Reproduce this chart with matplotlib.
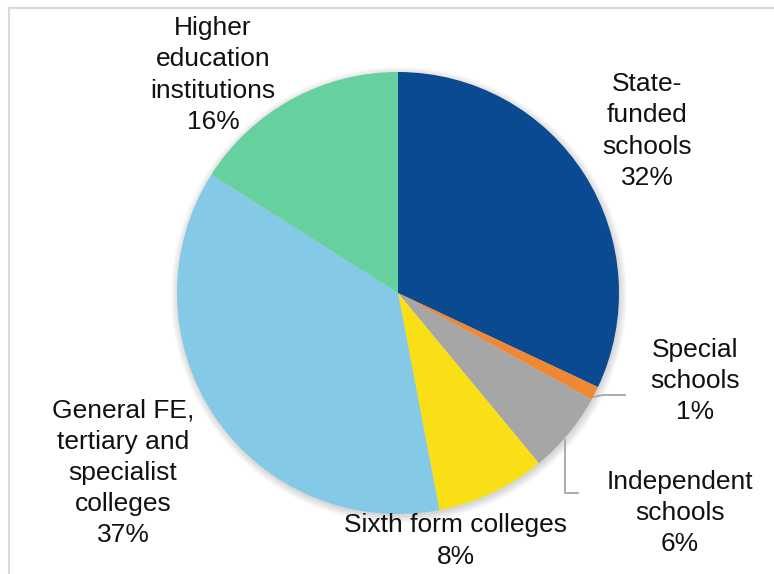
import matplotlib.pyplot as plt
from matplotlib.patches import Circle

# share of students by type of provider
labels = ['State-\nfunded\nschools', 'Special\nschools', 'Independent\nschools',
          'Sixth form colleges', 'General FE,\ntertiary and\nspecialist\ncolleges',
          'Higher\neducation\ninstitutions']
shares = [32, 1, 6, 8, 37, 16]
colors = ['#0A4A91', '#EF8733', '#A6A6A6', '#F9DF15', '#84C9E6', '#66D19E']

W, H = 774, 574
plt.rcParams['font.family'] = ['Liberation Sans', 'DejaVu Sans']

fig = plt.figure(figsize=(W / 100, H / 100), dpi=100)
ax = fig.add_axes([0, 0, 1, 1])

cx, cy, r = 398, H - 293, 221

# soft shadow behind the pie
for k in range(8):
    ax.add_patch(Circle((cx + 1, cy - 2), r + 7 - k, color='black', alpha=0.018, lw=0, zorder=1))

ax.pie(shares, colors=colors, startangle=90, counterclock=False,
       center=(cx, cy), radius=r, frame=True,
       wedgeprops=dict(linewidth=0, zorder=2))
ax.set_xlim(0, W)
ax.set_ylim(0, H)
ax.set_aspect('equal')
ax.axis('off')

# outer frame
ax.plot([8.5, W], [H - 7.5, H - 7.5], color='#D9D9D9', lw=1.5, zorder=0, clip_on=False)
ax.plot([8.5, 8.5], [H - 7.5, 0], color='#D9D9D9', lw=1.5, zorder=0, clip_on=False)

# label text and positions (x, y from top)
label_pos = [(647, 131), (695, 381), (680, 513), (456, 541), (123, 473), (213, 75)]
for lab, s, (x, y) in zip(labels, shares, label_pos):
    ax.text(x, H - y, f'{lab}\n{s}%', ha='center', va='center', fontsize=19,
            color='#111111', linespacing=1.38, zorder=5)

# leader lines for the two small slices
ax.plot([593, 603, 625], [H - 397, H - 395, H - 395], color='#A6A6A6', lw=1.3, zorder=3)
ax.plot([565, 565, 578], [H - 440, H - 493, H - 493], color='#A6A6A6', lw=1.3, zorder=3)

fig.savefig('out.png', dpi=100)
